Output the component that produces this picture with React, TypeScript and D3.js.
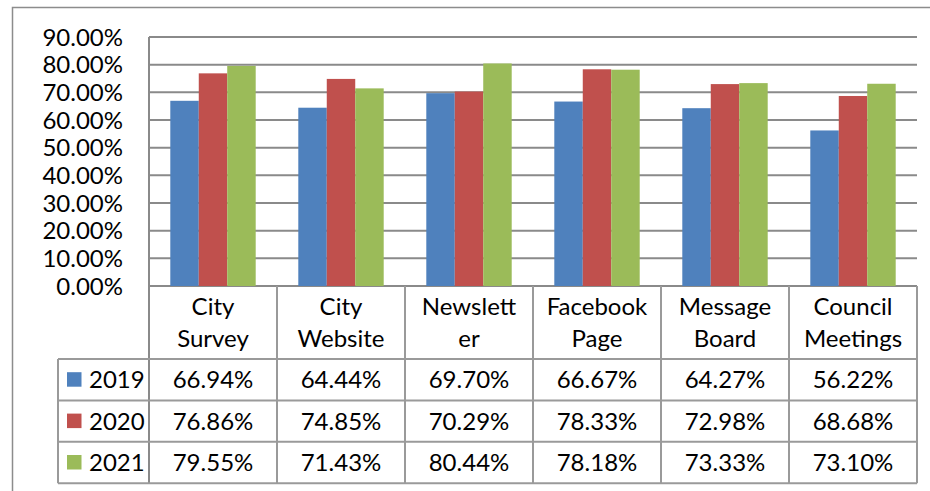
import * as d3 from 'd3';

const categories = [
  ['City', 'Survey'],
  ['City', 'Website'],
  ['Newslett', 'er'],
  ['Facebook', 'Page'],
  ['Message', 'Board'],
  ['Council', 'Meetings'],
];
const years = ['2019', '2020', '2021'];
const values2019 = [0.6694, 0.6444, 0.697, 0.6667, 0.6427, 0.5622];
const values2020 = [0.7686, 0.7485, 0.7029, 0.7833, 0.7298, 0.6868];
const values2021 = [0.7955, 0.7143, 0.8044, 0.7818, 0.7333, 0.731];
const yTicks = [0, 0.1, 0.2, 0.3, 0.4, 0.5, 0.6, 0.7, 0.8, 0.9];
const colors = ['#4F81BD', '#C0504D', '#9BBB59'];

const W = 930;
const H = 491;
const font = 'Lato, "Open Sans", sans-serif';
const fs = 24;
const gridColor = '#8a8a8a';
const tableColor = '#9a9a9a';

export default function App() {
  const series = [values2019, values2020, values2021];
  const plotLeft = 149;
  const plotRight = 917;
  const plotTop = 37;
  const plotBottom = 286;
  const headerBottom = 359;
  const rowH = 41.4;
  const legendLeft = 58;

  const x = d3.scaleBand<number>().domain(d3.range(categories.length)).range([plotLeft, plotRight]);
  const inner = d3.scaleBand<number>().domain(d3.range(years.length)).range([21.3, x.bandwidth() - 21.3]);
  const y = d3.scaleLinear().domain([0, 0.9]).range([plotBottom, plotTop]);
  const fmt = d3.format('.2%');
  const tableBottom = headerBottom + rowH * years.length;

  return (
    <svg width={W} height={H} style={{ position: 'absolute', left: 0, top: 0, background: '#fff' }} fontFamily={font}>
      {/* outer chart frame */}
      <path d={`M12.5,${H} V7.5 H${W}`} fill="none" stroke="#8c8c8c" strokeWidth={1.5} />

      {/* gridlines */}
      {yTicks.map((t) => (
        <line key={t} x1={plotLeft} x2={plotRight} y1={y(t)} y2={y(t)} stroke={gridColor} strokeWidth={2} />
      ))}
      {yTicks.map((t) => (
        <text key={'l' + t} x={123} y={y(t)} dy="0.36em" textAnchor="end" fontSize={fs} fill="#000">
          {fmt(t)}
        </text>
      ))}

      {/* bars */}
      {series.map((vals, s) =>
        vals.map((v, i) => (
          <rect
            key={s + '-' + i}
            x={(x(i) as number) + (inner(s) as number)}
            y={y(v)}
            width={inner.bandwidth()}
            height={plotBottom - y(v)}
            fill={colors[s]}
          />
        ))
      )}

      {/* table */}
      <line x1={plotLeft} x2={plotLeft} y1={plotTop} y2={tableBottom} stroke={gridColor} strokeWidth={2} />
      {categories.map((_, i) => (
        <line
          key={'v' + i}
          x1={(x(i) as number) + x.bandwidth()}
          x2={(x(i) as number) + x.bandwidth()}
          y1={plotBottom}
          y2={tableBottom}
          stroke={tableColor}
          strokeWidth={2}
        />
      ))}
      <line x1={legendLeft} x2={legendLeft} y1={headerBottom} y2={tableBottom} stroke={tableColor} strokeWidth={2} />
      {d3.range(years.length + 1).map((r) => (
        <line
          key={'h' + r}
          x1={legendLeft}
          x2={plotRight}
          y1={headerBottom + r * rowH}
          y2={headerBottom + r * rowH}
          stroke={tableColor}
          strokeWidth={2}
        />
      ))}

      {/* category labels */}
      {categories.map((lines, i) => (
        <text key={'c' + i} x={(x(i) as number) + x.bandwidth() / 2} textAnchor="middle" fontSize={fs} fill="#000">
          {lines.map((ln, k) => (
            <tspan key={k} x={(x(i) as number) + x.bandwidth() / 2} y={315 + k * 31.5}>
              {ln}
            </tspan>
          ))}
        </text>
      ))}

      {/* legend + values */}
      {years.map((yr, r) => {
        const cy = headerBottom + r * rowH + rowH / 2;
        return (
          <g key={yr}>
            <rect x={67} y={cy - 7.5} width={14.5} height={14.5} fill={colors[r]} />
            <text x={89} y={cy} dy="0.36em" fontSize={fs} fill="#000">
              {yr}
            </text>
            {series[r].map((v, i) => (
              <text
                key={i}
                x={(x(i) as number) + x.bandwidth() / 2}
                y={cy}
                dy="0.36em"
                textAnchor="middle"
                fontSize={fs}
                fill="#000"
              >
                {fmt(v)}
              </text>
            ))}
          </g>
        );
      })}
    </svg>
  );
}
